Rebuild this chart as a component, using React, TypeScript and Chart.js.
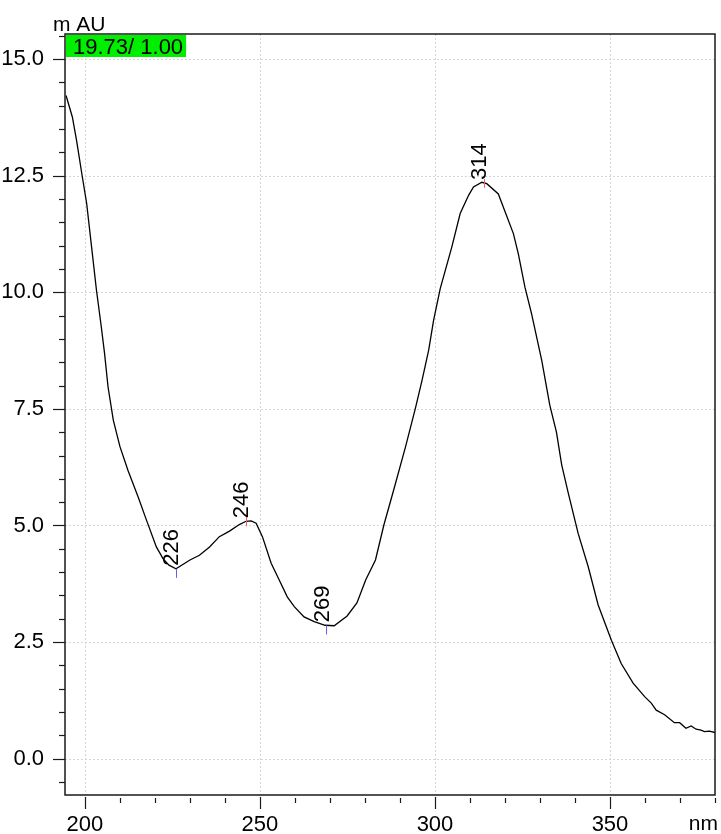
import React, { useEffect, useRef } from "react";
import { Chart, registerables } from "chart.js";

Chart.register(...registerables);

// Spectrum data (wavelength nm, absorbance mAU)
const wavelengths = [
  194.6, 196.4, 197.6, 199.2, 200.5, 201.9, 203.3, 204.6, 205.6, 206.6, 208.1, 210.0,
  212.3, 215.2, 217.6, 220.4, 222.3, 224.0, 226.0, 230.0, 232.7, 235.6, 238.4, 241.3,
  244.1, 246.0, 247.5, 248.9, 250.7, 253.2, 255.5, 257.8, 259.8, 262.6, 265.5, 268.6,
  271.2, 274.9, 277.7, 280.2, 283.0, 285.4, 288.2, 291.6, 294.4, 296.3, 298.2, 299.6,
  301.5, 304.8, 307.2, 309.6, 311.0, 313.4, 314.8, 318.1, 322.4, 323.8, 325.7, 327.6,
  330.5, 332.8, 334.7, 336.2, 338.1, 340.9, 343.8, 346.6, 347.1, 350.4, 353.2, 356.6,
  359.9, 361.8, 363.2, 365.6, 368.4, 369.9, 371.7, 373.2, 374.6, 376.0, 377.0, 378.4, 380.0,
];
const absorbance = [
  14.22, 13.76, 13.26, 12.5, 11.9, 10.97, 10.04, 9.3, 8.69, 7.97, 7.26, 6.69,
  6.18, 5.61, 5.11, 4.54, 4.29, 4.15, 4.07, 4.26, 4.36, 4.54, 4.76, 4.88,
  5.02, 5.09, 5.1, 5.05, 4.76, 4.19, 3.83, 3.47, 3.26, 3.04, 2.94, 2.86,
  2.85, 3.06, 3.34, 3.83, 4.26, 5.01, 5.76, 6.69, 7.51, 8.11, 8.76, 9.4,
  10.08, 10.97, 11.69, 12.08, 12.26, 12.36, 12.33, 12.11, 11.26, 10.83, 10.11, 9.54,
  8.54, 7.58, 7.0, 6.3, 5.69, 4.83, 4.11, 3.3, 3.2, 2.54, 2.04, 1.62,
  1.33, 1.19, 1.04, 0.94, 0.77, 0.77, 0.65, 0.7, 0.63, 0.61, 0.58, 0.59, 0.56,
];

const xTickValues = [200, 250, 300, 350];
const yTickValues = [0, 2.5, 5, 7.5, 10, 12.5, 15];
const peakWavelengths = [226, 246, 269, 314];
const peakKinds = ["min", "max", "min", "max"];
const headerLabel = "19.73/ 1.00";
const yUnit = "m AU";
const xUnit = "nm";

const X_MIN = 194.3;
const X_MAX = 380;
const Y_MIN = -0.78;
const Y_MAX = 15.54;
const X_MINOR_STEP = 10;
const Y_MINOR_STEP = 0.5;

const FONT = "Liberation Sans, Arial, sans-serif";

function interp(nm: number): number {
  for (let i = 0; i < wavelengths.length - 1; i++) {
    if (nm >= wavelengths[i] && nm <= wavelengths[i + 1]) {
      const t = (nm - wavelengths[i]) / (wavelengths[i + 1] - wavelengths[i]);
      return absorbance[i] + t * (absorbance[i + 1] - absorbance[i]);
    }
  }
  return absorbance[absorbance.length - 1];
}

const decorPlugin = {
  id: "decor",
  beforeDatasetsDraw(chart: any) {
    const { ctx, chartArea: a, scales } = chart;
    const x = scales.x;
    const y = scales.y;
    ctx.save();
    ctx.strokeStyle = "#d6d6d6";
    ctx.lineWidth = 1;
    ctx.setLineDash([2, 2]);
    xTickValues.forEach((v) => {
      const px = Math.round(x.getPixelForValue(v)) + 0.5;
      ctx.beginPath();
      ctx.moveTo(px, a.top);
      ctx.lineTo(px, a.bottom);
      ctx.stroke();
    });
    yTickValues.forEach((v) => {
      const py = Math.round(y.getPixelForValue(v)) + 0.5;
      ctx.beginPath();
      ctx.moveTo(a.left, py);
      ctx.lineTo(a.right, py);
      ctx.stroke();
    });
    ctx.restore();
  },
  afterDatasetsDraw(chart: any) {
    const { ctx, chartArea: a, scales } = chart;
    const x = scales.x;
    const y = scales.y;
    ctx.save();
    ctx.setLineDash([]);

    // peak markers and labels
    peakWavelengths.forEach((nm, i) => {
      const px = x.getPixelForValue(nm);
      const py = y.getPixelForValue(interp(nm));
      const isMax = peakKinds[i] === "max";
      ctx.strokeStyle = isMax ? "#f06060" : "#6060f0";
      ctx.lineWidth = 1;
      ctx.beginPath();
      if (isMax) {
        ctx.moveTo(Math.round(px) + 0.5, py - 4);
        ctx.lineTo(Math.round(px) + 0.5, py + 5);
      } else {
        ctx.moveTo(Math.round(px) + 0.5, py);
        ctx.lineTo(Math.round(px) + 0.5, py + 9);
      }
      ctx.stroke();
      ctx.save();
      ctx.translate(px - 4, py - 3);
      ctx.rotate(-Math.PI / 2);
      ctx.fillStyle = "#000";
      ctx.font = `22px ${FONT}`;
      ctx.textAlign = "left";
      ctx.textBaseline = "middle";
      ctx.fillText(String(nm), 0, 0);
      ctx.restore();
    });

    // frame
    ctx.strokeStyle = "#1a1a1a";
    ctx.lineWidth = 1.5;
    ctx.strokeRect(a.left, a.top, a.right - a.left, a.bottom - a.top);

    // y ticks
    ctx.lineWidth = 1.2;
    const nY = Math.round((Y_MAX - Y_MIN) / Y_MINOR_STEP) + 2;
    const yStart = Math.ceil(Y_MIN / Y_MINOR_STEP) * Y_MINOR_STEP;
    for (let k = 0; k < nY; k++) {
      const v = yStart + k * Y_MINOR_STEP;
      if (v > Y_MAX) break;
      const py = Math.round(y.getPixelForValue(v)) + 0.5;
      const major = Math.abs(v / 2.5 - Math.round(v / 2.5)) < 1e-6;
      ctx.beginPath();
      ctx.moveTo(a.left, py);
      ctx.lineTo(a.left - (major ? 12 : 6), py);
      ctx.stroke();
    }
    // x ticks
    const xStart = Math.ceil(X_MIN / X_MINOR_STEP) * X_MINOR_STEP;
    for (let v = xStart; v <= X_MAX + 1e-6; v += X_MINOR_STEP) {
      const px = Math.round(x.getPixelForValue(v)) + 0.5;
      const major = v % 50 === 0;
      ctx.beginPath();
      ctx.moveTo(px, a.bottom + (major ? 2 : 3));
      ctx.lineTo(px, a.bottom + (major ? 14 : 8));
      ctx.stroke();
    }

    // header box
    ctx.font = `22px ${FONT}`;
    const tw = ctx.measureText(headerLabel).width;
    ctx.fillStyle = "#00ee00";
    ctx.fillRect(a.left + 1, a.top + 1, tw + 10, 22);
    ctx.fillStyle = "#000";
    ctx.textAlign = "left";
    ctx.textBaseline = "alphabetic";
    ctx.fillText(headerLabel, a.left + 8, a.top + 19.5);

    // units
    ctx.font = `21px ${FONT}`;
    ctx.fillText(yUnit, 53, 31);
    ctx.textAlign = "right";
    ctx.fillText(xUnit, 718, 830);
    ctx.restore();
  },
};

export default function App() {
  const canvasRef = useRef<HTMLCanvasElement | null>(null);

  useEffect(() => {
    document.body.style.margin = "0";
    const canvas = canvasRef.current;
    if (!canvas) return;
    const data = wavelengths.map((w, i) => ({ x: w, y: absorbance[i] }));
    const chart = new Chart(canvas, {
      type: "line",
      data: {
        datasets: [
          {
            data,
            borderColor: "#000",
            borderWidth: 1.3,
            pointRadius: 0,
            tension: 0,
            fill: false,
          },
        ],
      },
      options: {
        animation: false,
        responsive: false,
        devicePixelRatio: 1,
        layout: { padding: { top: 34, right: 6, left: 0, bottom: 0 } },
        plugins: { legend: { display: false }, tooltip: { enabled: false } },
        scales: {
          x: {
            type: "linear",
            min: X_MIN,
            max: X_MAX,
            grid: { display: false },
            border: { display: false },
            afterBuildTicks: (s: any) => {
              s.ticks = xTickValues.map((v) => ({ value: v }));
            },
            afterFit: (s: any) => {
              s.height = 39;
            },
            ticks: {
              color: "#000",
              font: { family: FONT, size: 22 },
              padding: 9,
              maxRotation: 0,
              autoSkip: false,
              callback: (v: any) => String(v),
            },
          },
          y: {
            type: "linear",
            min: Y_MIN,
            max: Y_MAX,
            grid: { display: false },
            border: { display: false },
            afterBuildTicks: (s: any) => {
              s.ticks = yTickValues.map((v) => ({ value: v }));
            },
            afterFit: (s: any) => {
              s.width = 65;
            },
            ticks: {
              color: "#000",
              font: { family: FONT, size: 22 },
              padding: 13,
              autoSkip: false,
              callback: (v: any) => Number(v).toFixed(1),
            },
          },
        },
      },
      plugins: [decorPlugin],
    });
    return () => chart.destroy();
  }, []);

  return (
    <div style={{ width: 721, height: 834 }}>
      <canvas ref={canvasRef} width={721} height={834} style={{ display: "block" }} />
    </div>
  );
}
